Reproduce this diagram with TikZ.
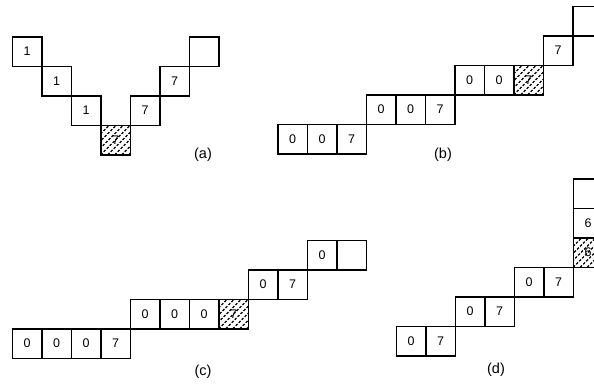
\documentclass[tikz,border=0pt]{standalone}
\usepackage{fontspec}
\setmainfont{Liberation Sans}
\begin{document}
\begin{tikzpicture}[x=1pt,y=-1pt,
  cell/.style={draw, line width=1.5pt, minimum size=29.5pt, inner sep=0pt,
    anchor=north west, font=\fontsize{12.5}{12.5}\selectfont},
  hatched/.style={cell, path picture={
    \foreach \k in {-42,-35,...,42}
      \draw[line width=1.1pt, dash pattern=on 2.6pt off 1.6pt]
        ([xshift=\k pt]path picture bounding box.south west) -- ++(32pt,32pt);}},
  tag/.style={font=\fontsize{14.5}{14.5}\selectfont}]
\clip (0,0) rectangle (594,384);
\useasboundingbox (0,0) rectangle (594,384);

% ---- (a) a V-shaped chain
\node[cell]    (a1) at (11.5,36)   {1};
\node[cell]    (a2) at (41,65.5)   {1};
\node[cell]    (a3) at (70.5,95)   {1};
\node[hatched] (a4) at (100,124.5) {7};
\node[cell]    (a5) at (129.5,95)  {7};
\node[cell]    (a6) at (159,65.5)  {7};
\node[cell]    (a7) at (188.5,36)  {};
\node[tag] (la) at (203,155) {(a)};

% ---- (b) staircase of three-cell runs
\node[cell]    (b1) at (277,123.5)   {0};
\node[cell]    (b2) at (306.5,123.5) {0};
\node[cell]    (b3) at (336,123.5)   {7};
\node[cell]    (b4) at (365.5,94)    {0};
\node[cell]    (b5) at (395,94)      {0};
\node[cell]    (b6) at (424.5,94)    {7};
\node[cell]    (b7) at (454,64.5)    {0};
\node[cell]    (b8) at (483.5,64.5)  {0};
\node[hatched] (b9) at (513,64.5)    {7};
\node[cell]    (b10) at (542.5,35)   {7};
\node[cell]    (b11) at (572,5.5)    {};
\node[tag] (lb) at (443,155) {(b)};

% ---- (c) staircase of four-cell runs
\node[cell]    (c1) at (11.5,328)   {0};
\node[cell]    (c2) at (41,328)     {0};
\node[cell]    (c3) at (70.5,328)   {0};
\node[cell]    (c4) at (100,328)    {7};
\node[cell]    (c5) at (129.5,298.5) {0};
\node[cell]    (c6) at (159,298.5)  {0};
\node[cell]    (c7) at (188.5,298.5) {0};
\node[hatched] (c8) at (218,298.5)  {7};
\node[cell]    (c9) at (247.5,269)  {0};
\node[cell]    (c10) at (277,269)   {7};
\node[cell]    (c11) at (306.5,239.5) {0};
\node[cell]    (c12) at (336,239.5) {};
\node[tag] (lc) at (203,372) {(c)};

% ---- (d) staircase of two-cell runs turning upward
\node[cell]    (d1) at (395.5,325.5) {0};
\node[cell]    (d2) at (425,325.5)   {7};
\node[cell]    (d3) at (454.5,296)   {0};
\node[cell]    (d4) at (484,296)     {7};
\node[cell]    (d5) at (513.5,266.5) {0};
\node[cell]    (d6) at (543,266.5)   {7};
\node[hatched] (d7) at (572.5,237)   {6};
\node[cell]    (d8) at (572.5,207.5) {6};
\node[cell]    (d9) at (572.5,178)   {};
\node[tag] (ld) at (496,370) {(d)};
\end{tikzpicture}
\end{document}
